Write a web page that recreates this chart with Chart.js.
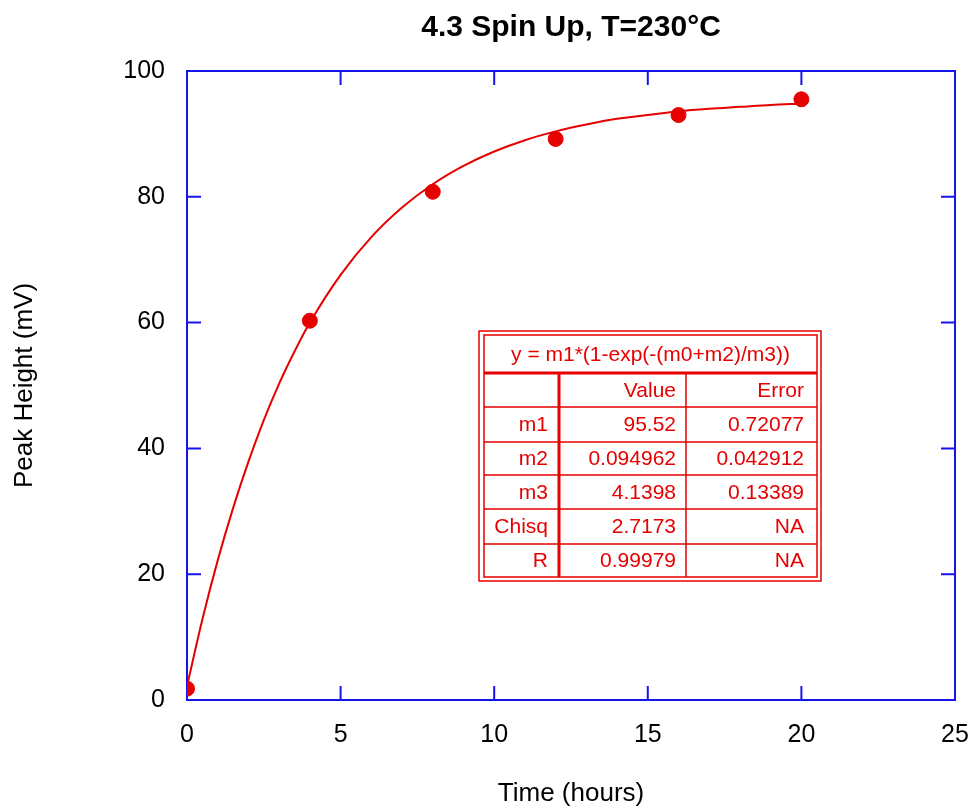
<!DOCTYPE html>
<html>
<head>
<meta charset="utf-8">
<script src="https://cdn.jsdelivr.net/npm/chart.js@4.4.1/dist/chart.umd.min.js"></script>
<style>
  html, body { margin: 0; padding: 0; background: #fff; }
  #wrap { width: 972px; height: 809px; }
</style>
</head>
<body>
<div id="wrap"><canvas id="spinChart" width="972" height="809"></canvas></div>
<script>
// measured points (hours, mV)
var timeHours = [0, 4, 8, 12, 16, 20];
var peakHeight = [1.8, 60.3, 80.8, 89.2, 93.0, 95.5];

// fitted curve
var fitTime = [0, 0.5, 1, 1.5, 2, 2.5, 3, 3.5, 4, 5, 6, 7, 8, 9, 10, 11, 12, 13, 14, 15, 16, 17, 18, 19, 20];
var fitHeight = [2.2, 12.8, 22.2, 30.5, 37.9, 44.5, 50.3, 55.4, 60.0, 67.6, 73.6, 78.3, 82.0, 84.9, 87.2, 89.0, 90.4, 91.5, 92.4, 93.0, 93.6, 94.0, 94.3, 94.6, 94.8];

// fit result table
var fitEquation = "y = m1*(1-exp(-(m0+m2)/m3))";
var fitParams = ["m1", "m2", "m3", "Chisq", "R"];
var fitValues = ["95.52", "0.094962", "4.1398", "2.7173", "0.99979"];
var fitErrors = ["0.72077", "0.042912", "0.13389", "NA", "NA"];

var chartTitle = "4.3 Spin Up, T=230°C";
var xTicks = [0, 5, 10, 15, 20, 25];
var yTicks = [0, 20, 40, 60, 80, 100];

var blue = "rgb(20,20,235)";
var red = "rgb(230,0,0)";
var fontName = "'Liberation Sans', Arial, sans-serif";

//==================== frame with inward ticks on all four sides
var framePlugin = {
    id: 'frame',
    beforeDatasetsDraw: function(chart) {
        var ctx = chart.ctx, a = chart.chartArea;
        var xs = chart.scales.x, ys = chart.scales.y;
        var len = 14;
        ctx.save();
        ctx.strokeStyle = blue;
        ctx.lineWidth = 2;
        ctx.strokeRect(a.left, a.top, a.right - a.left, a.bottom - a.top);
        ctx.beginPath();
        xTicks.forEach(function(t) {
            var px = xs.getPixelForValue(t);
            ctx.moveTo(px, a.bottom); ctx.lineTo(px, a.bottom - len);
            ctx.moveTo(px, a.top); ctx.lineTo(px, a.top + len);
        });
        yTicks.forEach(function(t) {
            var py = ys.getPixelForValue(t);
            ctx.moveTo(a.left, py); ctx.lineTo(a.left + len, py);
            ctx.moveTo(a.right, py); ctx.lineTo(a.right - len, py);
        });
        ctx.stroke();
        ctx.restore();
    },
    afterDraw: function(chart) {
        // title centred over the plot area, not the canvas
        var ctx = chart.ctx, a = chart.chartArea;
        ctx.save();
        ctx.fillStyle = "#000";
        ctx.font = "bold 30px " + fontName;
        ctx.textAlign = "center";
        ctx.textBaseline = "middle";
        ctx.fillText(chartTitle, (a.left + a.right) / 2, 28);
        ctx.restore();
    }
};

//==================== fit results box
var tablePlugin = {
    id: 'fitTable',
    afterDatasetsDraw: function(chart) {
        var ctx = chart.ctx;
        var L = 484, R = 817, T = 335, B = 577;
        var col1 = 559, col2 = 686, head = 373;
        var rows = [407, 442, 475, 509, 544, 577];
        ctx.save();
        ctx.fillStyle = "#fff";
        ctx.fillRect(478, 330, 344, 252);
        ctx.strokeStyle = red;
        ctx.lineWidth = 1.5;
        ctx.strokeRect(479, 331, 342, 250);
        ctx.strokeRect(L, T, R - L, B - T);
        ctx.lineWidth = 3;
        ctx.beginPath();
        ctx.moveTo(L, head); ctx.lineTo(R, head);
        ctx.moveTo(col1, head); ctx.lineTo(col1, B);
        ctx.stroke();
        ctx.lineWidth = 1.5;
        ctx.beginPath();
        ctx.moveTo(col2, head); ctx.lineTo(col2, B);
        for (var i = 0; i < rows.length - 1; i++) {
            ctx.moveTo(L, rows[i]); ctx.lineTo(R, rows[i]);
        }
        ctx.stroke();

        ctx.fillStyle = red;
        ctx.font = "21px " + fontName;
        ctx.textBaseline = "middle";
        ctx.textAlign = "center";
        ctx.fillText(fitEquation, (L + R) / 2, (T + head) / 2 + 1);
        ctx.textAlign = "right";
        ctx.fillText("Value", 676, (head + rows[0]) / 2 + 1);
        ctx.fillText("Error", 804, (head + rows[0]) / 2 + 1);
        for (var j = 0; j < fitParams.length; j++) {
            var cy = (rows[j] + rows[j + 1]) / 2 + 1;
            ctx.fillText(fitParams[j], 548, cy);
            ctx.fillText(fitValues[j], 676, cy);
            ctx.fillText(fitErrors[j], 804, cy);
        }
        ctx.restore();
    }
};

var pts = timeHours.map(function(v, i) { return {x: v, y: peakHeight[i]}; });
var curve = fitTime.map(function(v, i) { return {x: v, y: fitHeight[i]}; });

var chrt = document.getElementById("spinChart").getContext("2d");
var config = {
    type: 'scatter',
    data: {
        datasets: [{
            label: 'fit',
            data: curve,
            showLine: true,
            borderColor: red,
            borderWidth: 2,
            pointRadius: 0,
            cubicInterpolationMode: 'monotone',
            order: 2
        }, {
            label: 'Peak Height',
            data: pts,
            backgroundColor: red,
            borderColor: red,
            pointRadius: 7.5,
            pointHoverRadius: 7.5,
            order: 1
        }]
    },
    options: {
        responsive: false,
        animation: false,
        layout: { padding: { left: 0, right: 17, top: 71, bottom: 0 } },
        plugins: {
            legend: { display: false },
            tooltip: { enabled: false },
            title: { display: false }
        },
        scales: {
            x: {
                type: 'linear',
                min: 0, max: 25,
                afterBuildTicks: function(s) { s.ticks = xTicks.map(function(v) { return {value: v}; }); },
                afterFit: function(s) { s.height = 109; s.paddingLeft = 0; s.paddingRight = 0; },
                grid: { display: false, drawTicks: false },
                border: { display: false },
                ticks: { color: '#000', padding: 20, font: { family: fontName, size: 25 } },
                title: {
                    display: true, text: 'Time (hours)', color: '#000',
                    font: { family: fontName, size: 26 },
                    padding: { top: 0, bottom: 0 }
                }
            },
            y: {
                min: 0, max: 100,
                afterBuildTicks: function(s) { s.ticks = yTicks.map(function(v) { return {value: v}; }); },
                afterFit: function(s) { s.width = 187; s.paddingTop = 0; s.paddingBottom = 0; },
                grid: { display: false, drawTicks: false },
                border: { display: false },
                ticks: { color: '#000', padding: 22, font: { family: fontName, size: 25 } },
                title: {
                    display: true, text: 'Peak Height (mV)', color: '#000',
                    font: { family: fontName, size: 26 },
                    padding: { top: 9, bottom: 0 }
                }
            }
        }
    },
    plugins: [framePlugin, tablePlugin]
};

var spinChart = new Chart(chrt, config);
</script>
</body>
</html>
